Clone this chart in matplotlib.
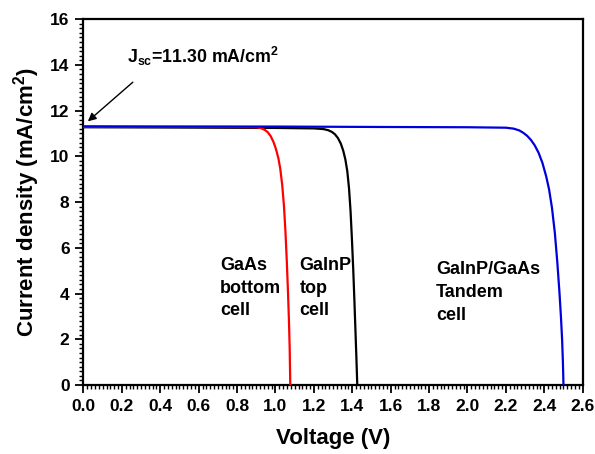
import matplotlib
matplotlib.use("Agg")
import matplotlib.pyplot as plt
from matplotlib.ticker import MultipleLocator

plt.rcParams['font.family'] = ['Liberation Sans', 'DejaVu Sans']
plt.rcParams['font.weight'] = 'bold'
plt.rcParams['mathtext.fontset'] = 'custom'
plt.rcParams['mathtext.rm'] = 'Liberation Sans:bold'
plt.rcParams['mathtext.bf'] = 'Liberation Sans:bold'
plt.rcParams['mathtext.it'] = 'Liberation Sans:bold'

# GaAs bottom cell
v_red = [0.00, 0.40, 0.80, 0.90, 0.925, 0.945, 0.96, 0.975, 0.99, 1.003, 1.015, 1.025,
         1.035, 1.044, 1.052, 1.059, 1.065, 1.070, 1.074, 1.077]
j_red = [11.29, 11.29, 11.28, 11.27, 11.23, 11.15, 11.05, 10.88, 10.62, 10.30, 9.92, 9.45,
         8.75, 7.85, 6.70, 5.40, 4.10, 2.85, 1.60, 0.00]

# GaInP top cell
v_blk = [0.00, 0.40, 1.00, 1.20, 1.25, 1.275, 1.295, 1.31, 1.325, 1.34, 1.353, 1.364,
         1.374, 1.383, 1.391, 1.398, 1.405, 1.411, 1.416, 1.421, 1.426]
j_blk = [11.27, 11.26, 11.24, 11.22, 11.19, 11.14, 11.06, 10.96, 10.80, 10.56, 10.24, 9.86,
         9.35, 8.60, 7.60, 6.40, 5.05, 3.70, 2.50, 1.30, 0.00]

# GaInP/GaAs tandem cell
v_blu = [0.00, 0.40, 1.00, 1.60, 2.00, 2.20, 2.24, 2.27, 2.29, 2.31, 2.33, 2.35, 2.37,
         2.39, 2.41, 2.425, 2.44, 2.455, 2.468, 2.479, 2.487, 2.493, 2.497, 2.500]
j_blu = [11.31, 11.30, 11.30, 11.28, 11.27, 11.25, 11.21, 11.13, 11.03, 10.90, 10.72, 10.48, 10.16,
         9.72, 9.12, 8.55, 7.75, 6.65, 5.35, 4.05, 2.95, 1.95, 1.00, 0.00]

x_ticks = [0.0, 0.2, 0.4, 0.6, 0.8, 1.0, 1.2, 1.4, 1.6, 1.8, 2.0, 2.2, 2.4, 2.6]
y_ticks = [0, 2, 4, 6, 8, 10, 12, 14, 16]

fig = plt.figure(figsize=(5.95, 4.54), dpi=100)
ax = fig.add_axes([0.1403, 0.152, 0.8390, 0.806])

ax.plot(v_red, j_red, color='#ff0000', lw=1.6, zorder=3)
ax.plot(v_blk, j_blk, color='black', lw=1.6, zorder=2)
ax.plot(v_blu, j_blu, color='#0000dd', lw=1.6, zorder=4)

ax.set_xlim(0, 2.6)
ax.set_ylim(0, 16)
ax.set_xticks(x_ticks)
ax.set_xticklabels([f"{t:.1f}" for t in x_ticks])
ax.set_yticks(y_ticks)
ax.set_yticklabels([str(t) for t in y_ticks])
ax.xaxis.set_minor_locator(MultipleLocator(0.02))
ax.yaxis.set_minor_locator(MultipleLocator(0.2))
ax.tick_params(which='major', direction='out', length=6, width=1.3, labelsize=12.5, pad=4)
ax.tick_params(which='minor', direction='out', length=3, width=1.0)
for lbl in ax.get_xticklabels() + ax.get_yticklabels():
    lbl.set_fontweight('bold')
for s in ax.spines.values():
    s.set_linewidth(1.6)

ax.set_xlabel('Voltage (V)', fontsize=16, fontweight='bold', labelpad=10)
ax.set_ylabel('Current density (mA/cm$^{2}$)', fontsize=16, fontweight='bold', labelpad=6)

ax.text(0.227, 14.06, r'J$_{\mathregular{sc}}$=11.30 mA/cm$^{2}$', fontsize=12.8,
        fontweight='bold', va='baseline', ha='left')
ax.annotate('', xy=(0.012, 11.45), xytext=(0.268, 13.32),
            arrowprops=dict(arrowstyle='-|>', color='black', lw=1.0, mutation_scale=12))

ax.text(0.711, 5.6, 'GaAs\nbottom\ncell', fontsize=13, fontweight='bold',
        va='top', ha='left', linespacing=1.43)
ax.text(1.124, 5.6, 'GaInP\ntop\ncell', fontsize=13, fontweight='bold',
        va='top', ha='left', linespacing=1.43)
ax.text(1.836, 5.4, 'GaInP/GaAs\nTandem\ncell', fontsize=13, fontweight='bold',
        va='top', ha='left', linespacing=1.43)

fig.savefig('out.png', dpi=100)
